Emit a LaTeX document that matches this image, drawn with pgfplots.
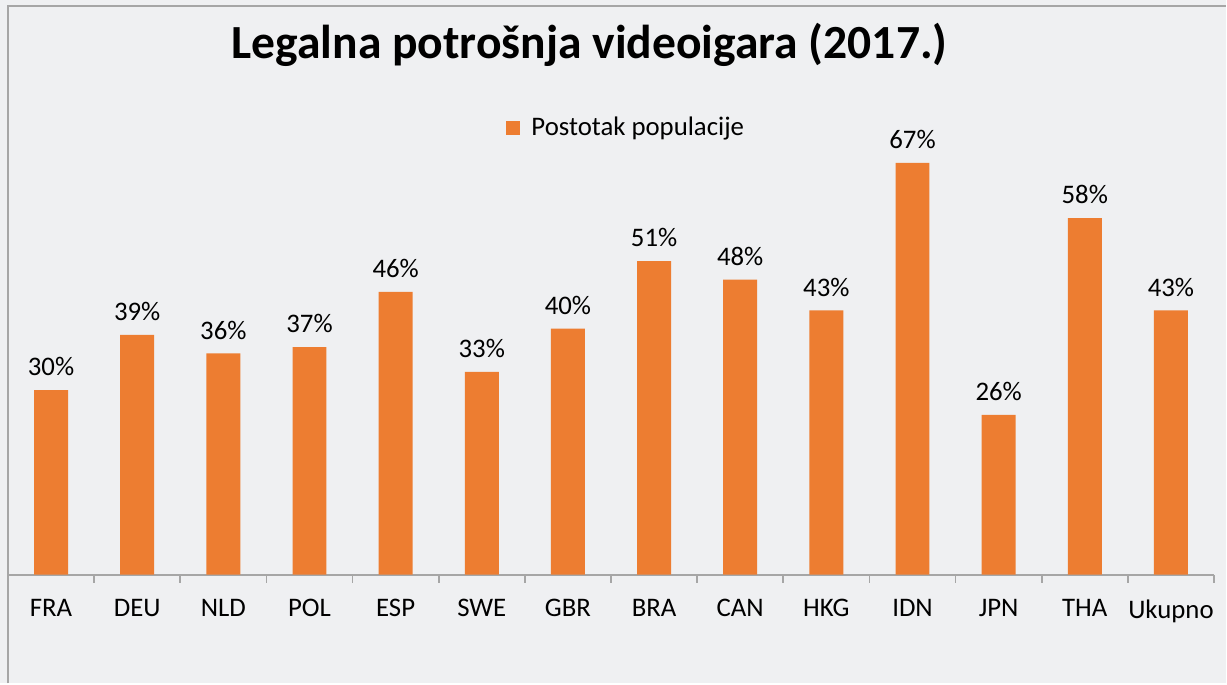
\documentclass[border=0pt]{standalone}
\usepackage{pgfplots}
\pgfplotsset{compat=1.18}
\usepackage{fontspec}
\setmainfont{Carlito}
\definecolor{barc}{HTML}{ED7D31}
\definecolor{bgc}{HTML}{EFF0F2}
\definecolor{axgray}{HTML}{A6A6A6}
\begin{document}
\begin{tikzpicture}
\fill[bgc] (0pt,0pt) rectangle (613.5pt,342pt);
\draw[axgray, line width=1pt] (4pt,0pt) -- (4pt,339pt) -- (613.5pt,339pt);
\node[font=\bfseries\fontsize{23.8}{28}\selectfont] at (295pt,319.5pt) {Legalna potrošnja videoigara (2017.)};
\begin{axis}[
  at={(4pt,54.5pt)}, anchor=south west,
  width=603.5pt, height=237.5pt, scale only axis,
  xmin=-0.5, xmax=13.5, ymin=0, ymax=77.24,
  axis x line*=bottom, axis y line=none,
  x axis line style={axgray, line width=1pt, -},
  xtick={0,...,13},
  xticklabels={FRA,DEU,NLD,POL,ESP,SWE,GBR,BRA,CAN,HKG,IDN,JPN,THA,Ukupno},
  major tick length=0pt,
  minor xtick={-0.5,0.5,...,13.5},
  minor tick length=4pt, tick align=outside,
  minor tick style={axgray, line width=0.8pt},
  xticklabel style={font=\fontsize{13.4}{16}\selectfont, yshift=-9pt},
  ybar, bar width=17pt,
  nodes near coords={\pgfmathprintnumber[assume math mode=true]{\pgfplotspointmeta}\%},
  every node near coord/.append style={font=\fontsize{13.4}{16}\selectfont, black, yshift=3.5pt},
  legend style={at={(0.413,0.941)}, anchor=west, draw=none, fill=none, font=\fontsize{13.4}{16}\selectfont, inner sep=0pt},
  legend image code/.code={\fill[barc] (0pt,-3.5pt) rectangle (7pt,3.5pt);},
]
\addplot[fill=barc, draw=none, bar shift=0pt] coordinates {
(0,30) (1,39) (2,36) (3,37) (4,46) (5,33) (6,40) (7,51) (8,48) (9,43) (10,67) (11,26) (12,58) (13,43)};
\addlegendentry{\hspace{3.5pt}Postotak populacije}
\end{axis}
\end{tikzpicture}
\end{document}
